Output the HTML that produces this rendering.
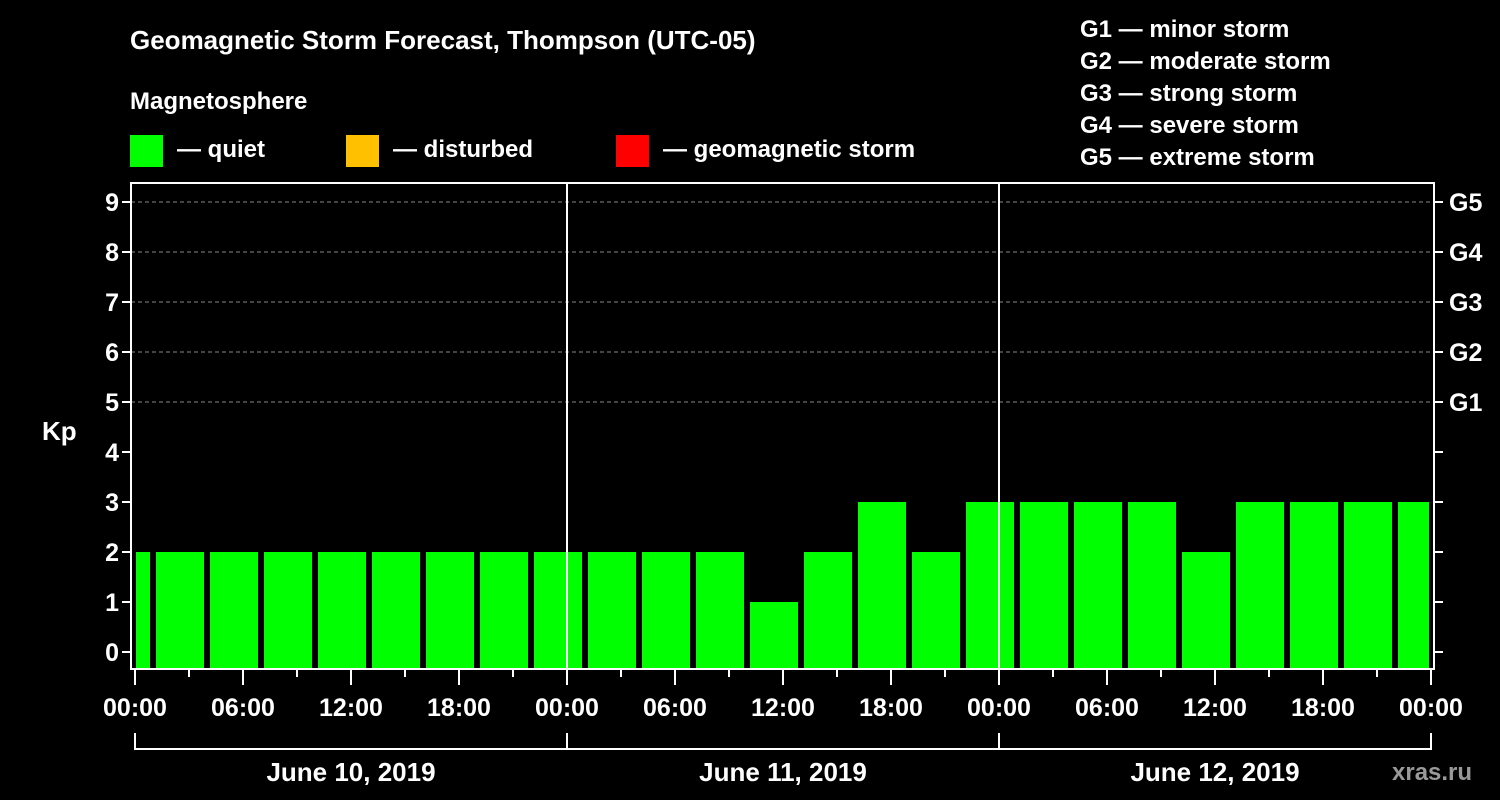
<!DOCTYPE html>
<html><head><meta charset="utf-8"><style>
html,body{margin:0;padding:0;background:#000;width:1500px;height:800px;overflow:hidden}
svg{display:block}
text{font-family:"Liberation Sans",Arial,sans-serif;font-weight:bold;fill:#fff}
</style></head><body>
<svg id="chart" width="1500" height="800" viewBox="0 0 1500 800" xmlns="http://www.w3.org/2000/svg">
<text x="130" y="49" font-size="26">Geomagnetic Storm Forecast, Thompson (UTC-05)</text>
<text x="130" y="109" font-size="24">Magnetosphere</text>
<g><rect x="130" y="135" width="33" height="32" fill="#00ff00"/><text x="177" y="157" font-size="24">— quiet</text></g>
<g><rect x="346" y="135" width="33" height="32" fill="#ffc000"/><text x="393" y="157" font-size="24">— disturbed</text></g>
<g><rect x="616" y="135" width="33" height="32" fill="#ff0000"/><text x="663" y="157" font-size="24">— geomagnetic storm</text></g>
<g font-size="24">
<text x="1080" y="37">G1 — minor storm</text>
<text x="1080" y="69">G2 — moderate storm</text>
<text x="1080" y="101">G3 — strong storm</text>
<text x="1080" y="133">G4 — severe storm</text>
<text x="1080" y="165">G5 — extreme storm</text>
</g>
<text x="42" y="440" font-size="26">Kp</text>
<g id="grid"></g><g id="bars"></g><g id="axes"></g>
<text x="1392" y="780" font-size="24" fill="#999" style="fill:#999">xras.ru</text>
</svg>
<script>
const kpValues = [2, 2,2,2,2,2,2,2,2, 2,2,2,1,2,3,2,3, 3,3,3,2,3,3,3,3];
const binStartHour = -2;
const binHours = 3;
const yTicks = [0,1,2,3,4,5,6,7,8,9];
const gLabels = ["G1","G2","G3","G4","G5"];
const xTickLabels = ["00:00","06:00","12:00","18:00","00:00","06:00","12:00","18:00","00:00","06:00","12:00","18:00","00:00"];
const dateLabels = ["June 10, 2019","June 11, 2019","June 12, 2019"];

const NS="http://www.w3.org/2000/svg";
const X0=135, PXH=18, TOTALH=72, Y0=652, PXK=50;
const L=131, R=1434, T=183, B=669;
const x = h => X0 + h*PXH;
const y = k => Y0 - k*PXK;
function mk(tag, attrs, parent){const e=document.createElementNS(NS,tag);for(const k in attrs)e.setAttribute(k,attrs[k]);parent.appendChild(e);return e;}
const grid=document.getElementById('grid'), bars=document.getElementById('bars'), axes=document.getElementById('axes');

for(let k=5;k<=9;k++){
  const g=mk('line',{x1:L,x2:R,y1:y(k),y2:y(k),stroke:'#888','stroke-dasharray':'4,3','stroke-width':1},grid);
  
  
}
kpValues.forEach((v,i)=>{
  let h0=binStartHour+i*binHours, h1=h0+binHours;
  let x0=x(h0)+3, x1=x(h1)-3;
  x0=Math.max(x0,x(0)+1); x1=Math.min(x1,x(TOTALH)-2);
  const r=mk('rect',{x:x0,y:y(v),width:x1-x0,height:B-1-y(v),fill:'#00ff00'},bars);
  
  
});
// day separators
for(let d=1;d<3;d++){
  const l=mk('line',{x1:x(d*24),x2:x(d*24),y1:T,y2:B,stroke:'#fff','stroke-width':2},axes);
  
  
}
const frame=mk('rect',{x:L,y:T,width:R-L,height:B-T,fill:'none',stroke:'#fff','stroke-width':2},axes);


yTicks.forEach(k=>{
  const t1=mk('line',{x1:L-9,x2:L,y1:y(k),y2:y(k),stroke:'#fff','stroke-width':2},axes);
  
  
  const t2=mk('line',{x1:R,x2:R+9,y1:y(k),y2:y(k),stroke:'#fff','stroke-width':2},axes);
  
  
  const tl=mk('text',{x:L-12,y:y(k)+9,'font-size':25,'text-anchor':'end'},axes);
  tl.textContent=k;
  
  
  if(k>=5){
    const gl=mk('text',{x:R+15,y:y(k)+9,'font-size':25},axes);
    gl.textContent=gLabels[k-5];
    
    
  }
});
for(let h=0;h<=TOTALH;h+=3){
  const major=h%6===0;
  const t=mk('line',{x1:x(h),x2:x(h),y1:B,y2:B+(major?16:8),stroke:'#fff','stroke-width':2},axes);
  
  
}
xTickLabels.forEach((s,i)=>{
  const t=mk('text',{x:x(i*6),y:716,'font-size':25,'text-anchor':'middle'},axes);
  t.textContent=s;
  
  
});
const br=mk('line',{x1:x(0),x2:x(TOTALH),y1:749,y2:749,stroke:'#fff','stroke-width':2},axes);


for(let d=0;d<=3;d++){
  const l=mk('line',{x1:x(d*24),x2:x(d*24),y1:733,y2:750,stroke:'#fff','stroke-width':2},axes);
  
  
}
dateLabels.forEach((s,i)=>{
  const t=mk('text',{x:x(i*24+12),y:781,'font-size':26,'text-anchor':'middle'},axes);
  t.textContent=s;
  
  
});
</script>
</body></html>
